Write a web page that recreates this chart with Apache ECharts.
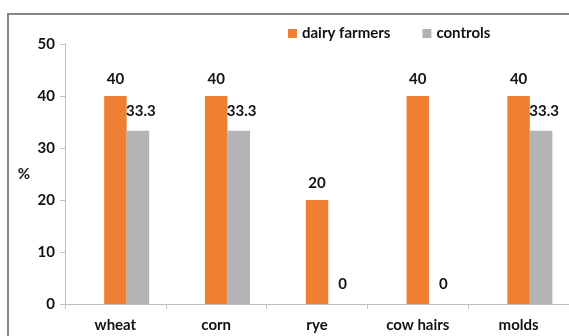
<!DOCTYPE html>
<html>
<head>
<meta charset="utf-8">
<script src="https://cdn.jsdelivr.net/npm/echarts@6/dist/echarts.min.js"></script>
<style>
    html, body { margin: 0; padding: 0; background: #fff; }
    #chart { width: 569px; height: 336px; }
</style>
</head>
<body>
<div id="chart"></div>
<script>
    var categories = ['wheat', 'corn', 'rye', 'cow hairs', 'molds'];
    var dairyFarmers = [40, 40, 20, 40, 40];
    var controls = [33.3, 33.3, 0, 0, 33.3];
    var blank = [null, null, null, null, null]; // empty slot left of the orange bar
    var yTicks = [0, 10, 20, 30, 40, 50];

    var font = 'Lato, "Liberation Sans", sans-serif';
    var txt = { fontFamily: font, fontWeight: 'bold', fontSize: 15, color: '#111' };

    var myChart = echarts.init(document.getElementById('chart'));
    var option = {
        animation: false,
        textStyle: { fontFamily: font },
        graphic: [{
            type: 'rect',
            shape: { x: 8, y: 14, width: 620, height: 400 },
            style: { fill: 'none', stroke: '#888', lineWidth: 2 },
            silent: true
        }],
        legend: {
            data: ['dairy farmers', 'controls'],
            left: 283,
            top: 21,
            itemWidth: 9,
            itemHeight: 9,
            itemGap: 32,
            icon: 'rect',
            textStyle: txt
        },
        grid: { left: 65, right: -6, top: 44, bottom: 32 },
        xAxis: {
            type: 'category',
            data: categories,
            axisLine: { lineStyle: { color: '#bfbfbf' } },
            axisTick: { show: true, length: 5, lineStyle: { color: '#bfbfbf' } },
            axisLabel: Object.assign({ margin: 14 }, txt)
        },
        yAxis: {
            type: 'value',
            min: yTicks[0],
            max: yTicks[yTicks.length - 1],
            interval: 10,
            name: '%',
            nameLocation: 'middle',
            nameRotate: 0,
            nameGap: 35,
            nameTextStyle: txt,
            splitLine: { show: false },
            axisLine: { show: true, lineStyle: { color: '#bfbfbf' } },
            axisTick: { show: true, length: 5, lineStyle: { color: '#bfbfbf' } },
            axisLabel: Object.assign({ margin: 10 }, txt)
        },
        series: [
            {
                name: '',
                type: 'bar',
                data: blank,
                barWidth: 22.5,
                barGap: '0%'
            },
            {
                name: 'dairy farmers',
                type: 'bar',
                data: dairyFarmers,
                barWidth: 22.5,
                barGap: '0%',
                itemStyle: { color: '#ee7f33' },
                label: Object.assign({ show: true, position: 'top', distance: 9 }, txt)
            },
            {
                name: 'controls',
                type: 'bar',
                data: controls,
                barWidth: 22.5,
                barGap: '0%',
                itemStyle: { color: '#b3b3b3' },
                label: Object.assign({ show: true, position: 'top', distance: 12, offset: [3, 0] }, txt)
            }
        ]
    };
    myChart.setOption(option);
</script>
</body>
</html>
